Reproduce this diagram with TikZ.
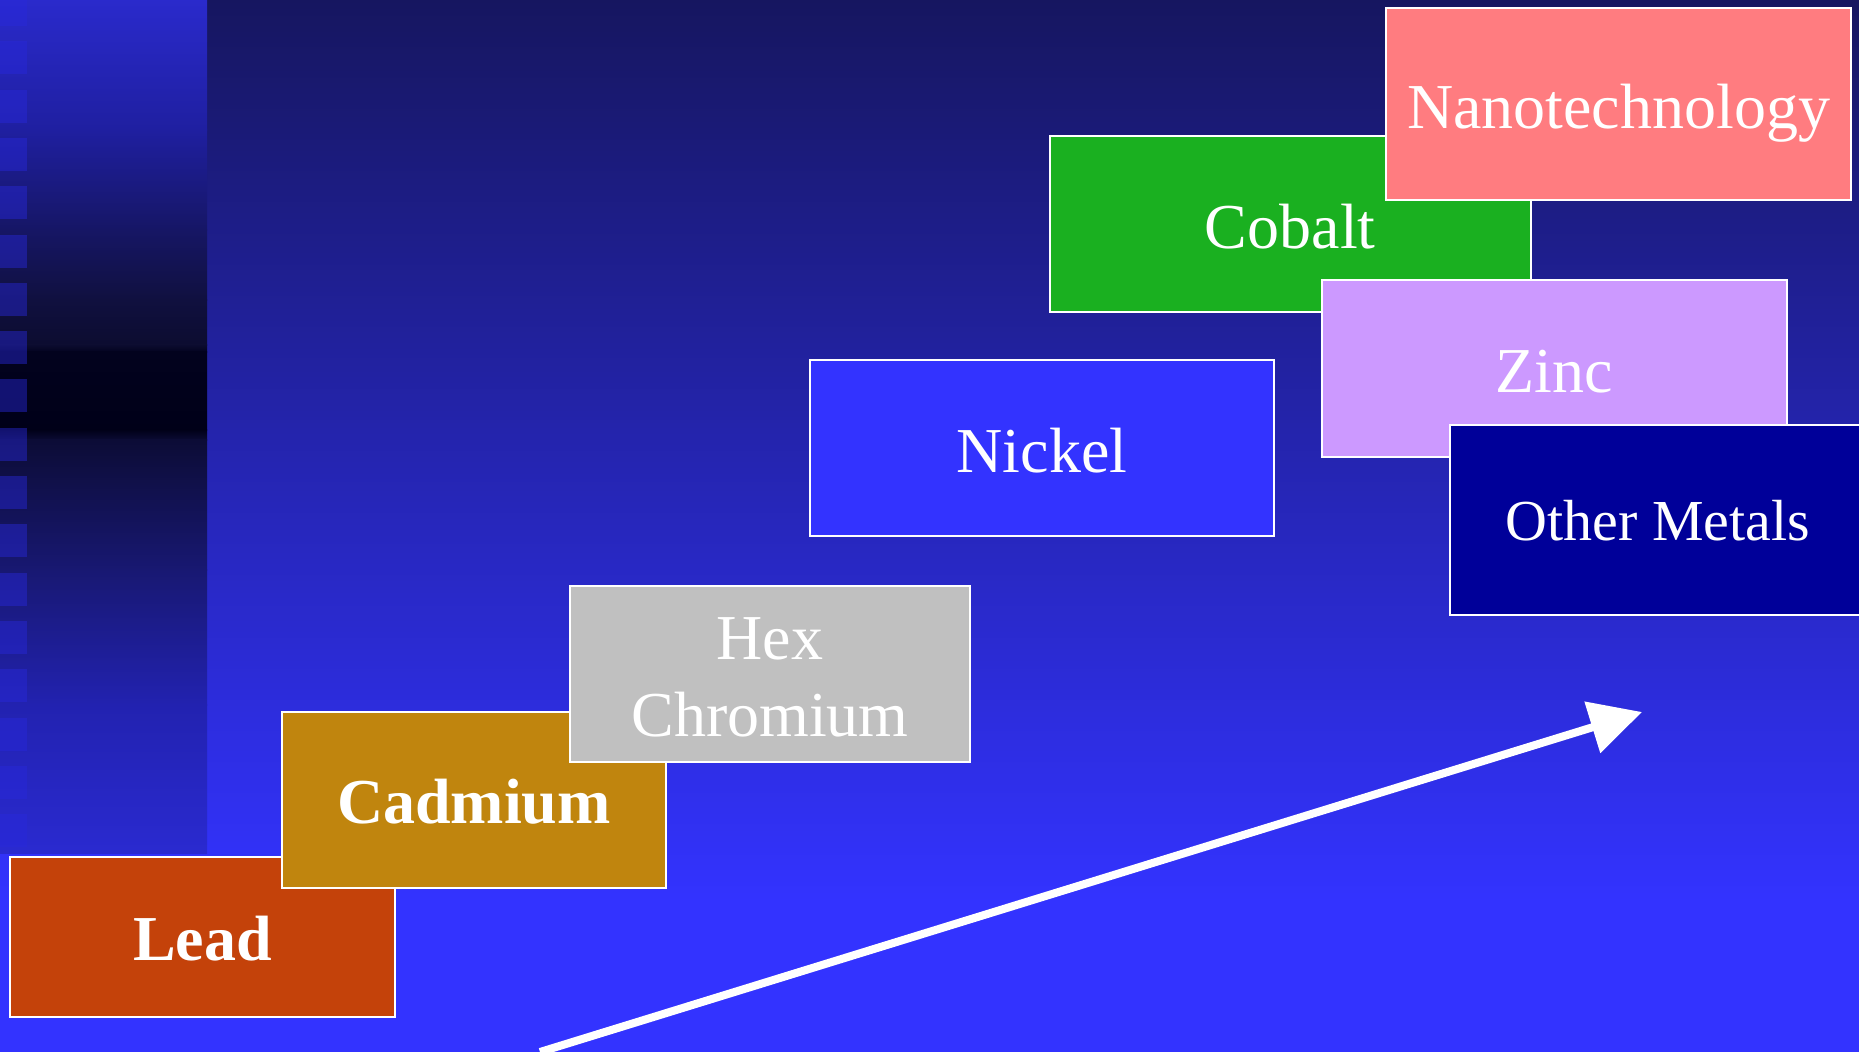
\documentclass[tikz,border=0pt]{standalone}
\usepackage{fontspec}
\setmainfont{Liberation Serif}
\usetikzlibrary{arrows.meta}
\definecolor{M0}{RGB}{22,22,96}
\definecolor{M1}{RGB}{51,51,255}
\definecolor{L0}{RGB}{42,42,204}
\definecolor{L1}{RGB}{31,31,160}
\definecolor{L2}{RGB}{22,22,101}
\definecolor{L3}{RGB}{16,16,63}
\definecolor{L4}{RGB}{12,12,48}
\definecolor{L5}{RGB}{2,2,30}
\definecolor{L6}{RGB}{0,0,24}
\definecolor{L7}{RGB}{12,12,54}
\definecolor{L8}{RGB}{24,24,114}
\definecolor{L9}{RGB}{34,34,176}
\definecolor{L10}{RGB}{42,42,208}
\definecolor{sqc}{RGB}{40,40,220}
\definecolor{leadc}{RGB}{196,66,10}
\definecolor{cadc}{RGB}{192,133,14}
\definecolor{hexc}{RGB}{192,192,192}
\definecolor{nickc}{RGB}{51,51,255}
\definecolor{cobc}{RGB}{26,176,32}
\definecolor{nanoc}{RGB}{255,124,128}
\definecolor{zincc}{RGB}{204,153,255}
\definecolor{othc}{RGB}{0,0,153}
\begin{document}
\begin{tikzpicture}[x=1pt,y=-1pt,
  box/.style={draw=white,line width=2pt,inner sep=0pt,text=white,
    text height=48pt,text depth=0pt,font=\fontsize{64}{72}\selectfont},
  boldbox/.style={box,text height=46pt,font=\fontsize{64}{72}\selectfont\bfseries},
  sq/.style={fill=sqc,fill opacity=0.45}]
\useasboundingbox (0,0) rectangle (1859,1052);
% main background
\fill[top color=M0,bottom color=M1] (0,0) rectangle (1859,901);
\fill[M1] (0,900) rectangle (1859,1052);
% left strip
\foreach \ya/\ca/\yb/\cb in {0/L0/130/L1,130/L1/230/L2,230/L2/300/L3,300/L3/345/L4,345/L4/352/L5,352/L5/430/L6,430/L6/440/L7,440/L7/570/L8,570/L8/705/L9,705/L9/853/L10}
  \fill[top color=\ca,bottom color=\cb] (0,\ya-0.5) rectangle (207,\yb+0.5);
\foreach \i in {0,...,17}
  \fill[sq] (0,{-7+48.3*\i}) rectangle (27,{26+48.3*\i});
% boxes
\node[boldbox,fill=leadc,minimum width=385pt,minimum height=160pt] (lead) at (202.5,937) {Lead};
\node[boldbox,fill=cadc,minimum width=384pt,minimum height=176pt] (cad) at (474,800) {Cadmium};
\node[draw=white,line width=2pt,inner sep=0pt,text=white,fill=hexc,minimum width=400pt,minimum height=175.5pt,
  font=\fontsize{64}{77}\selectfont] (hex) at (770,674)
  {\raisebox{-9pt}[\height][\depth]{\begin{tabular}{@{}c@{}}Hex\\Chromium\end{tabular}}};
\node[box,fill=nickc,minimum width=464.5pt,minimum height=176pt] (nick) at (1042,448) {Nickel};
\node[box,fill=cobc,minimum width=480.6pt,minimum height=176pt] (cob) at (1290.3,224) {Cobalt};
\node[box,fill=nanoc,minimum width=465pt,minimum height=192pt] (nano) at (1618.5,104) {Nanotechnology};
\node[box,fill=zincc,minimum width=465pt,minimum height=177pt] (zinc) at (1554.5,368.5) {Zinc};
\node[box,fill=othc,minimum width=416pt,minimum height=190pt,text height=40pt,
  font=\fontsize{58}{66}\selectfont] (oth) at (1658,520) {Other Metals};
% arrow
\coordinate (a0) at (540,1052);
\coordinate (a1) at (1642,712);
\draw[white,line width=8pt,-{Triangle[length=52pt,width=52pt]}] (a0) -- (a1);
\end{tikzpicture}
\end{document}
